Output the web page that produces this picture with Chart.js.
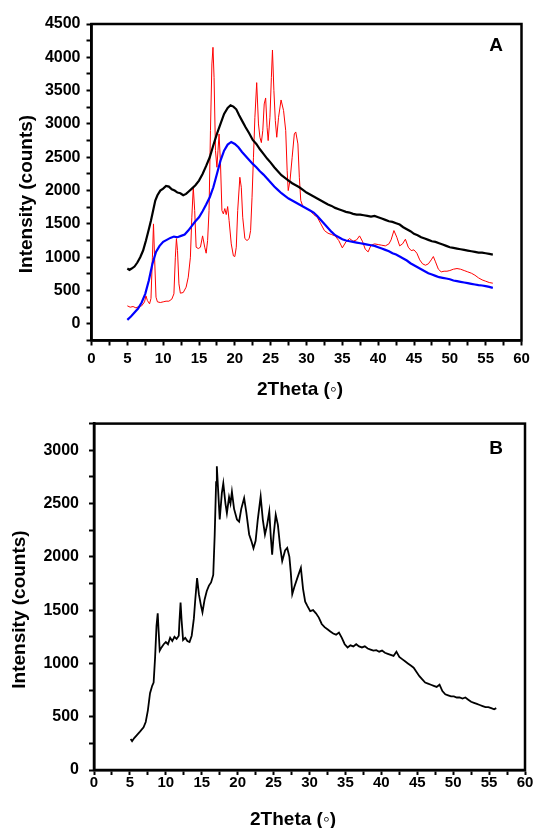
<!DOCTYPE html>
<html>
<head>
<meta charset="utf-8">
<script src="https://cdn.jsdelivr.net/npm/chart.js@4/dist/chart.umd.min.js"></script>
<style>
html,body{margin:0;padding:0;background:#fff;width:535px;height:828px;overflow:hidden;}
#wa{position:absolute;left:0;top:0;width:535px;height:414px;}
#wb{position:absolute;left:0;top:404px;width:535px;height:424px;}
</style>
</head>
<body>
<div id="wa"><canvas id="ca" width="535" height="414"></canvas></div>
<div id="wb"><canvas id="cb" width="535" height="424"></canvas></div>
<script>
// ---------- Panel A data ----------
const blackA_x = [5.0,5.3,5.6,6.0,6.4,6.8,7.2,7.6,8.0,8.3,8.6,8.9,9.2,9.6,10.0,10.4,10.8,11.2,11.6,12.0,12.4,12.8,13.2,13.6,14.0,14.5,15.0,15.5,16.0,16.5,17.0,17.5,18.0,18.5,19.0,19.4,19.8,20.2,20.6,21.0,21.5,22.0,22.5,23.0,23.5,24.0,24.5,25.0,25.5,26.0,26.5,27.0,27.5,28.0,28.5,29.0,29.5,30.0,30.5,31.0,31.5,32.0,32.5,33.0,33.5,34.0,34.5,35.0,35.5,36.0,36.5,37.0,37.5,38.0,38.5,39.0,39.5,40.0,40.5,41.0,41.5,42.0,42.5,43.0,43.5,44.0,44.5,45.0,45.5,46.0,46.5,47.0,47.5,48.0,48.5,49.0,49.5,50.0,50.5,51.0,51.5,52.0,52.5,53.0,53.5,54.0,54.5,55.0,55.5,56.0];
const blackA_y = [830,810,830,860,920,1000,1100,1250,1420,1550,1700,1850,1930,2000,2030,2070,2060,2020,2000,1970,1960,1930,1950,1990,2030,2080,2150,2250,2370,2500,2680,2850,3000,3150,3240,3280,3260,3220,3130,3050,2950,2860,2760,2700,2620,2550,2480,2420,2350,2290,2230,2190,2150,2110,2080,2050,2010,1970,1940,1910,1880,1850,1820,1790,1770,1740,1720,1700,1680,1670,1650,1640,1640,1630,1620,1610,1620,1600,1580,1560,1540,1530,1510,1490,1450,1420,1390,1350,1330,1300,1280,1260,1240,1230,1210,1190,1170,1150,1140,1130,1120,1110,1100,1090,1080,1070,1070,1060,1050,1040];

const blueA_x = [5.0,5.5,6.0,6.5,7.0,7.5,8.0,8.5,9.0,9.5,10.0,10.5,11.0,11.5,12.0,12.5,13.0,13.5,14.0,14.5,15.0,15.5,16.0,16.5,17.0,17.5,18.0,18.5,19.0,19.5,20.0,20.5,21.0,21.5,22.0,22.5,23.0,23.5,24.0,24.5,25.0,25.5,26.0,26.5,27.0,27.5,28.0,28.5,29.0,29.5,30.0,30.5,31.0,31.5,32.0,32.5,33.0,33.5,34.0,34.5,35.0,35.5,36.0,36.5,37.0,37.5,38.0,38.5,39.0,39.5,40.0,40.5,41.0,41.5,42.0,42.5,43.0,43.5,44.0,44.5,45.0,45.5,46.0,46.5,47.0,47.5,48.0,48.5,49.0,49.5,50.0,50.5,51.0,51.5,52.0,52.5,53.0,53.5,54.0,54.5,55.0,55.5,56.0];
const blueA_y = [60,110,170,230,320,450,650,900,1080,1170,1230,1260,1290,1310,1300,1320,1340,1400,1470,1540,1600,1690,1790,1900,2050,2250,2450,2600,2690,2730,2700,2650,2580,2520,2460,2400,2350,2290,2240,2180,2120,2060,2010,1960,1920,1880,1850,1820,1790,1760,1730,1700,1670,1620,1560,1500,1440,1380,1330,1300,1270,1250,1240,1230,1220,1210,1200,1190,1180,1170,1150,1130,1110,1090,1060,1040,1010,980,950,910,880,850,820,790,760,740,720,700,690,680,670,650,640,630,620,610,600,590,580,575,565,555,540];

const redA_x = [5.0,5.4,5.8,6.2,6.6,7.0,7.4,7.6,7.8,8.1,8.3,8.5,8.65,8.8,9.0,9.2,9.6,10.0,10.4,10.8,11.2,11.5,11.7,11.85,12.0,12.2,12.4,12.8,13.2,13.5,13.8,14.0,14.2,14.4,14.6,14.9,15.2,15.5,15.8,16.0,16.2,16.4,16.6,16.8,16.95,17.1,17.3,17.5,17.65,17.8,18.0,18.2,18.4,18.6,18.8,19.0,19.2,19.5,19.8,20.0,20.2,20.4,20.7,20.9,21.1,21.4,21.7,22.0,22.2,22.4,22.6,22.8,23.05,23.3,23.5,23.7,23.9,24.1,24.3,24.5,24.65,24.9,25.1,25.25,25.45,25.65,25.85,26.1,26.45,26.8,27.1,27.3,27.45,27.7,28.0,28.3,28.5,28.8,29.0,29.2,29.5,30.0,30.5,31.0,31.5,32.0,32.5,33.0,33.5,34.0,34.5,35.0,35.5,36.0,36.5,37.0,37.4,37.8,38.2,38.6,39.0,39.5,40.0,40.5,41.0,41.5,41.8,42.2,42.6,43.0,43.4,43.8,44.2,44.6,45.0,45.4,45.8,46.2,46.6,47.0,47.4,47.7,48.0,48.4,48.8,49.2,49.6,50.0,50.5,51.0,51.5,52.0,52.5,53.0,53.5,54.0,54.5,55.0,55.5,56.0];
const redA_y = [270,250,260,240,260,270,330,420,350,300,380,1000,1500,1000,400,330,320,330,340,340,370,450,1000,1280,1100,600,460,470,550,700,1000,1600,2050,1700,1150,1130,1150,1320,1150,1060,1250,1700,2900,3900,4150,3700,2600,2350,2600,2850,2400,1700,1650,1730,1640,1760,1550,1200,1020,1010,1150,1700,2200,2050,1600,1280,1250,1280,1400,1900,2500,3100,3620,3000,2800,2720,2900,3300,3390,2950,2750,3100,3700,4110,3500,3050,2800,3100,3360,3200,2900,2300,2000,2150,2500,2850,2880,2700,2200,1850,1760,1730,1700,1640,1600,1500,1400,1360,1340,1320,1250,1140,1230,1280,1240,1260,1320,1240,1120,1080,1180,1200,1190,1180,1170,1200,1260,1400,1300,1170,1200,1270,1150,1100,1110,1060,960,900,880,900,960,1010,930,820,780,790,790,800,820,830,820,800,780,760,730,690,660,640,620,610];

// ---------- Panel B data ----------
const lineB_x = [5.1,5.3,5.6,6.0,6.4,6.9,7.2,7.5,7.8,8.1,8.3,8.5,8.7,8.87,9.0,9.15,9.4,9.7,10.0,10.3,10.6,10.9,11.2,11.5,11.8,11.9,12.05,12.2,12.4,12.7,13.0,13.3,13.6,13.9,14.1,14.35,14.6,14.9,15.1,15.4,15.7,16.0,16.3,16.6,16.8,17.0,17.1,17.3,17.5,17.8,18.0,18.3,18.5,18.8,19.0,19.2,19.5,19.9,20.2,20.5,20.9,21.2,21.6,21.9,22.2,22.5,22.8,23.2,23.5,23.8,24.1,24.4,24.6,24.8,25.0,25.3,25.6,25.9,26.2,26.6,26.9,27.2,27.4,27.6,27.9,28.3,28.8,29.1,29.4,29.7,30.1,30.5,30.9,31.3,31.7,32.1,32.5,32.9,33.3,33.7,34.1,34.5,34.9,35.3,35.7,36.1,36.5,36.9,37.3,37.7,38.1,38.5,38.9,39.3,39.7,40.1,40.5,40.9,41.3,41.7,42.1,42.5,42.9,43.3,43.7,44.1,44.5,44.9,45.3,45.7,46.1,46.5,46.9,47.3,47.7,48.1,48.5,48.9,49.3,49.7,50.1,50.5,50.9,51.3,51.7,52.1,52.5,52.9,53.3,53.7,54.1,54.5,54.9,55.3,55.7,56.0];
const lineB_y = [290,270,300,330,360,400,450,560,720,790,820,1050,1350,1470,1300,1120,1150,1180,1200,1180,1240,1210,1250,1230,1260,1400,1570,1400,1220,1240,1210,1200,1260,1420,1600,1800,1650,1540,1480,1600,1680,1730,1760,1830,2200,2700,2850,2600,2350,2600,2690,2500,2410,2560,2500,2610,2450,2350,2330,2450,2550,2420,2210,2150,2080,2150,2350,2565,2350,2210,2300,2425,2200,2020,2200,2394,2300,2100,1960,2060,2083,2000,1850,1650,1720,1800,1897,1700,1580,1540,1490,1500,1470,1430,1370,1340,1320,1300,1280,1270,1290,1240,1180,1150,1170,1160,1180,1160,1150,1160,1140,1130,1120,1125,1110,1120,1100,1090,1080,1070,1110,1060,1040,1020,1000,980,960,920,880,850,820,810,800,790,780,800,740,710,700,690,690,680,680,670,680,660,640,630,620,610,600,590,590,580,570,580];

// ---------- Axis tick definitions ----------
const xTickStep = 2.5, xLabelStep = 5, xMin = 0, xMax = 60;
const yA_min = -250, yA_max = 4500, yB_min = 0, yB_max = 3250, yTickStep = 250, yLabelStep = 500;

const pts = (xs, ys) => xs.map((x, i) => ({x, y: ys[i]}));

const FONT = '"Liberation Sans", Arial, sans-serif';

const framePlugin = {
  id: 'frameTexts',
  afterDraw(chart, args, opts) {
    const {ctx, chartArea: a} = chart;
    ctx.save();
    ctx.strokeStyle = '#000';
    ctx.lineWidth = 2.5;
    ctx.strokeRect(a.left, a.top, a.right - a.left, a.bottom - a.top);
    ctx.fillStyle = '#000';
    ctx.textAlign = 'center';
    ctx.textBaseline = 'middle';
    (opts.texts || []).forEach(t => {
      ctx.save();
      ctx.translate(t.x, t.y);
      if (t.rot) ctx.rotate(t.rot);
      ctx.font = t.font;
      ctx.fillText(t.text, 0, 0);
      ctx.restore();
    });
    ctx.restore();
  }
};

function makeScales(yMin, yMax, yWidth, xHeight, xPad, yPad) {
  const grid = {display: true, drawOnChartArea: false, drawTicks: true, tickLength: 5, tickWidth: 2, tickColor: '#000'};
  const border = {display: true, color: '#000', width: 2.5};
  return {
    x: {
      type: 'linear', min: xMin, max: xMax,
      grid, border,
      ticks: {
        stepSize: xTickStep, autoSkip: false, maxRotation: 0, padding: xPad, color: '#000',
        font: {family: FONT, size: 15, weight: 'bold'},
        callback: v => (Math.abs(v % xLabelStep) < 1e-9 ? String(v) : '')
      },
      afterFit: s => { s.height = xHeight; }
    },
    y: {
      type: 'linear', min: yMin, max: yMax,
      grid, border,
      ticks: {
        stepSize: yTickStep, autoSkip: false, padding: yPad, color: '#000',
        font: {family: FONT, size: 16, weight: 'bold'},
        callback: v => (v >= 0 && v % yLabelStep === 0 ? String(v) : '')
      },
      afterFit: s => { s.width = yWidth; }
    }
  };
}

const TFONT = 'bold 19px ' + FONT;
const LFONT = 'bold 19px ' + FONT;

new Chart(document.getElementById('ca'), {
  type: 'line',
  data: {
    datasets: [
      {data: pts(blackA_x, blackA_y), borderColor: '#000000', borderWidth: 2.2, pointRadius: 0, tension: 0},
      {data: pts(blueA_x, blueA_y), borderColor: '#0000ff', borderWidth: 2.2, pointRadius: 0, tension: 0},
      {data: pts(redA_x, redA_y), borderColor: '#ff0000', borderWidth: 1, pointRadius: 0, tension: 0}
    ]
  },
  options: {
    responsive: false, maintainAspectRatio: false, animation: false,
    layout: {padding: {left: 0, top: 24, right: 13.5, bottom: 0}},
    plugins: {
      legend: {display: false}, tooltip: {enabled: false},
      frameTexts: {texts: [
        {text: 'Intensity (counts)', x: 26.5, y: 194, rot: -Math.PI / 2, font: TFONT},
        {text: '2Theta (\u25E6)', x: 300, y: 390, font: TFONT},
        {text: 'A', x: 496, y: 46, font: LFONT}
      ]}
    },
    scales: makeScales(yA_min, yA_max, 91.5, 73.5, 4, 6)
  },
  plugins: [framePlugin]
});

new Chart(document.getElementById('cb'), {
  type: 'line',
  data: {
    datasets: [
      {data: pts(lineB_x, lineB_y), borderColor: '#000000', borderWidth: 1.8, pointRadius: 0, tension: 0}
    ]
  },
  options: {
    responsive: false, maintainAspectRatio: false, animation: false,
    layout: {padding: {left: 0, top: 17, right: 10, bottom: 0}},
    plugins: {
      legend: {display: false}, tooltip: {enabled: false},
      frameTexts: {texts: [
        {text: 'Intensity (counts)', x: 20, y: 205.5, rot: -Math.PI / 2, font: TFONT},
        {text: '2Theta (\u25E6)', x: 293, y: 415.5, font: TFONT},
        {text: 'B', x: 496, y: 45, font: LFONT}
      ]}
    },
    scales: makeScales(yB_min, yB_max, 94, 58, -1, 10)
  },
  plugins: [framePlugin]
});
</script>
</body>
</html>
